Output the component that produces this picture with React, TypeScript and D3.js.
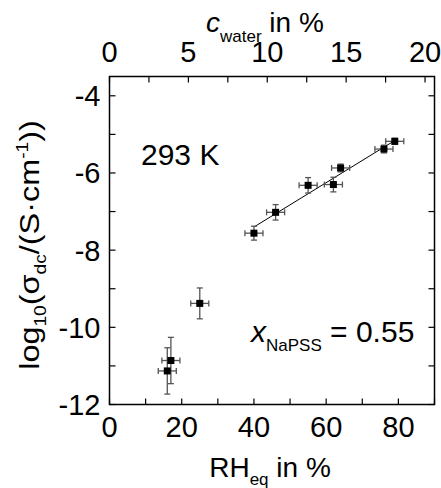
import React from "react";
import * as d3 from "d3";

const rh = [16, 17, 25, 40, 46, 55, 62, 64, 76, 79];
const logSigma = [-11.13, -10.86, -9.38, -7.56, -7.02, -6.32, -6.3, -5.87, -5.38, -5.18];
const rhErr = [2.5, 2.5, 2.5, 2.5, 2.5, 2.5, 2.5, 2.5, 2.5, 2.5];
const sigmaErr = [0.6, 0.6, 0.4, 0.18, 0.2, 0.2, 0.19, 0.1, 0.1, 0.08];
const fitX = [40, 79.5];
const fitY = [-7.4, -5.13];
const bottomTicks = [0, 20, 40, 60, 80];
const bottomMinor = [10, 30, 50, 70, 90];
const topTicks = [0, 5, 10, 15, 20];
const topMinor = [2.5, 7.5, 12.5, 17.5];
const leftTicks = [-4, -6, -8, -10, -12];
const leftMinor = [-5, -7, -9, -11];

const W = 441;
const H = 488;
const L = 109.5, R = 434.5, T = 76.5, B = 404.5;
const FONT = "'Liberation Sans', Arial, sans-serif";

export default function App() {
  const x = d3.scaleLinear().domain([0, 90]).range([L, R]);
  const xt = d3.scaleLinear().domain([0, 20.6]).range([L, R]);
  const y = d3.scaleLinear().domain([-12, -3.5]).range([B, T]);
  const line = d3.line<number>().x((_, i) => x(fitX[i])).y((_, i) => y(fitY[i]));
  const tl = 6;
  const fs = 29;
  return (
    <svg width={W} height={H} style={{ position: "absolute", left: 0, top: 0, background: "#fff" }} fontFamily={FONT}>
      <rect x={0} y={0} width={W} height={H} fill="#fff" />
      {/* ticks */}
      <g stroke="#000" strokeWidth={1.2}>
        {[...bottomTicks, ...bottomMinor].map((t) => (
          <line key={"b" + t} x1={x(t)} x2={x(t)} y1={B} y2={B - tl} />
        ))}
        {[...topTicks, ...topMinor].map((t) => (
          <line key={"t" + t} x1={xt(t)} x2={xt(t)} y1={T} y2={T + tl} />
        ))}
        {[...leftTicks, ...leftMinor].map((t) => (
          <g key={"l" + t}>
            <line x1={L} x2={L + tl} y1={y(t)} y2={y(t)} />
            <line x1={R} x2={R - tl} y1={y(t)} y2={y(t)} />
          </g>
        ))}
      </g>
      <rect x={L} y={T} width={R - L} height={B - T} fill="none" stroke="#000" strokeWidth={1.5} />
      {/* tick labels */}
      <g fontSize={fs} fill="#000">
        {bottomTicks.map((t) => (
          <text key={"bl" + t} x={x(t)} y={437} textAnchor="middle">{t}</text>
        ))}
        {topTicks.map((t) => (
          <text key={"tl" + t} x={xt(t)} y={62} textAnchor="middle">{t}</text>
        ))}
        {leftTicks.map((t) => (
          <text key={"ll" + t} x={L - 9} y={y(t) + 10.4} textAnchor="end">{t}</text>
        ))}
      </g>
      {/* axis titles */}
      <text x={270} y={477} textAnchor="middle" fontSize={28}>
        RH<tspan fontSize={17} dy={8}>eq</tspan><tspan dy={-8}> in %</tspan>
      </text>
      <text x={206} y={32} fontSize={28}>
        <tspan fontStyle="italic">c</tspan><tspan fontSize={17} dy={10}>water</tspan><tspan dy={-10}> in %</tspan>
      </text>
      <text transform={`translate(39,245) rotate(-90) scale(1.2,1)`} textAnchor="middle" fontSize={27}>
        log<tspan fontSize={16} dy={7}>10</tspan><tspan dy={-7}>(σ</tspan><tspan fontSize={16} dy={7}>dc</tspan><tspan dy={-7}>/(S·cm</tspan><tspan fontSize={16} dy={-11}>-1</tspan><tspan dy={11}>))</tspan>
      </text>
      {/* annotations */}
      <text x={141} y={165} fontSize={30}>293 K</text>
      <text x={251} y={342} fontSize={30}>
        <tspan fontStyle="italic">x</tspan><tspan fontSize={17} dy={9}>NaPSS</tspan><tspan dy={-9}> = 0.55</tspan>
      </text>
      {/* fit line */}
      <path d={line(fitX) || ""} fill="none" stroke="#000" strokeWidth={1} />
      {/* error bars */}
      <g stroke="#555" strokeWidth={1.3}>
        {rh.map((v, i) => {
          const cx = x(v), cy = y(logSigma[i]);
          const x0 = x(v - rhErr[i]), x1 = x(v + rhErr[i]);
          const y0 = y(logSigma[i] - sigmaErr[i]), y1 = y(logSigma[i] + sigmaErr[i]);
          return (
            <g key={"e" + i}>
              <line x1={x0} x2={x1} y1={cy} y2={cy} />
              <line x1={x0} x2={x0} y1={cy - 3} y2={cy + 3} />
              <line x1={x1} x2={x1} y1={cy - 3} y2={cy + 3} />
              <line x1={cx} x2={cx} y1={y0} y2={y1} />
              <line x1={cx - 3} x2={cx + 3} y1={y0} y2={y0} />
              <line x1={cx - 3} x2={cx + 3} y1={y1} y2={y1} />
            </g>
          );
        })}
      </g>
      {/* markers */}
      {rh.map((v, i) => (
        <rect key={"m" + i} x={x(v) - 3.5} y={y(logSigma[i]) - 3.5} width={7} height={7} fill="#000" />
      ))}
    </svg>
  );
}
